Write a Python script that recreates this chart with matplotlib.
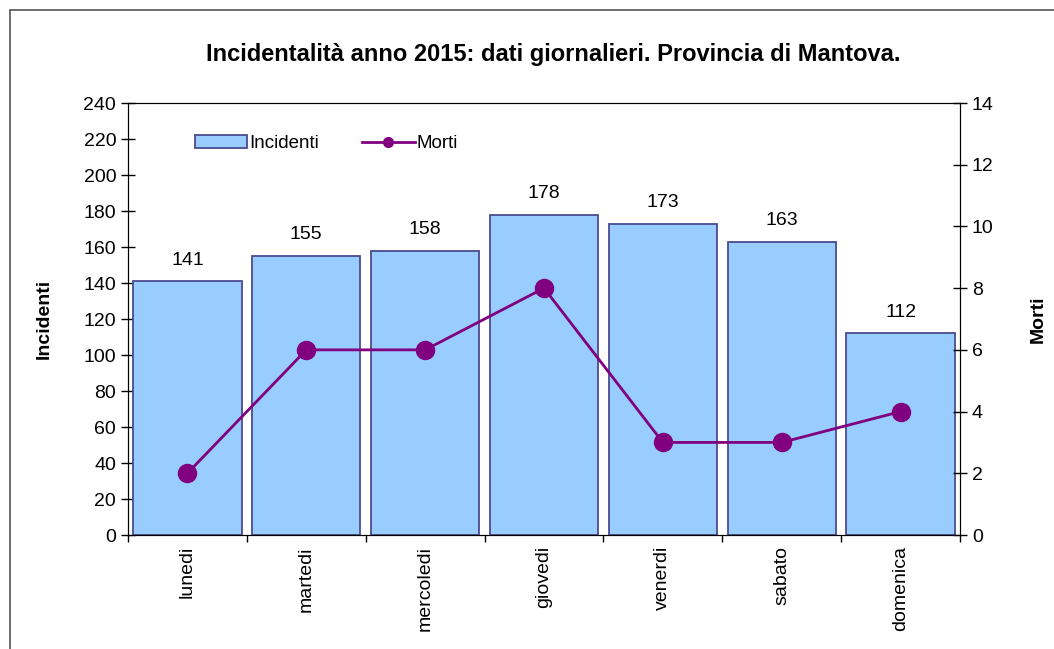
import matplotlib.pyplot as plt
from matplotlib.patches import Rectangle

plt.rcParams['font.family'] = ['Liberation Sans', 'DejaVu Sans']

giorni = ['lunedi', 'martedi', 'mercoledi', 'giovedi', 'venerdi', 'sabato', 'domenica']
incidenti = [141, 155, 158, 178, 173, 163, 112]
morti = [2, 6, 6, 8, 3, 3, 4]

fig = plt.figure(figsize=(10.54, 6.49), dpi=100)
# cornice esterna
fig.patches.append(Rectangle((10 / 1054, -0.01), 1.0, 1 - 10 / 649 + 0.01,
                             transform=fig.transFigure, fill=False,
                             edgecolor='#555555', linewidth=1.2))

ax = fig.add_axes([128 / 1054, 1 - 535 / 649, (960 - 128) / 1054, (535 - 103) / 649])
x = range(len(giorni))
ax.bar(x, incidenti, width=0.91, color='#99CCFF', edgecolor='#4B4B8F',
       linewidth=1.3, label='Incidenti', zorder=2)
for xi, v in zip(x, incidenti):
    ax.text(xi, v + 7, str(v), ha='center', va='bottom', fontsize=14)

ax.set_xlim(-0.5, len(giorni) - 0.5)
ax.set_ylim(0, 240)
ax.set_yticks(range(0, 241, 20))
ax.set_xticks([i + 0.5 for i in range(-1, len(giorni))], minor=False)
ax.set_xticklabels([])
ax.set_xticks(list(x), minor=True)
ax.set_xticklabels(giorni, minor=True, rotation=90, fontsize=14)
ax.tick_params(axis='x', which='minor', length=0, pad=8)
ax.tick_params(axis='x', which='major', direction='out', length=5, width=1)
ax.tick_params(axis='y', direction='inout', length=10, width=1, labelsize=14)
ax.set_ylabel('Incidenti', fontsize=14, fontweight='bold', labelpad=22)
for s in ax.spines.values():
    s.set_color('#222222')

ax2 = ax.twinx()
ax2.plot(list(x), morti, color='#800080', linewidth=2, marker='o', markersize=13,
         label='Morti', zorder=3)
ax2.set_ylim(0, 14)
ax2.set_yticks(range(0, 15, 2))
ax2.tick_params(axis='y', direction='inout', length=10, width=1, labelsize=14)
ax2.set_ylabel('Morti', fontsize=14, fontweight='bold', labelpad=26)

h1, l1 = ax.get_legend_handles_labels()
h2, l2 = ax2.get_legend_handles_labels()
leg = ax2.legend(h1 + h2, l1 + l2, loc='upper left', bbox_to_anchor=(0.06, 0.965),
                 ncol=2, frameon=False, fontsize=13.5, handlelength=2.8,
                 handletextpad=0.1, columnspacing=2.3)
for lh in leg.legend_handles[1:]:
    lh.set_markersize(7)

fig.text(0.525, 1 - 55 / 649, 'Incidentalità anno 2015: dati giornalieri. Provincia di Mantova.',
         ha='center', va='center', fontsize=17, fontweight='bold')

fig.savefig('out.png', dpi=100)
